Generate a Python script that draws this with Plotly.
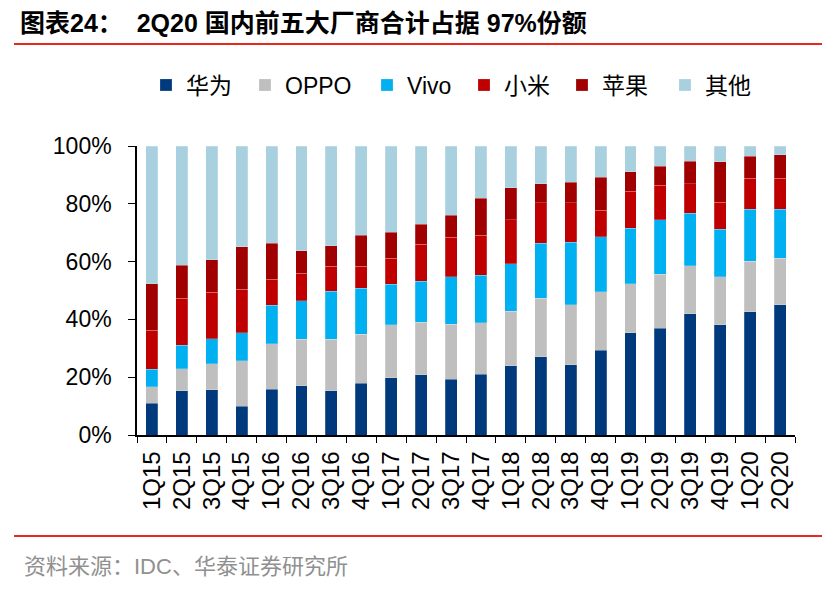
import plotly.graph_objects as go

quarters = ["1Q15","2Q15","3Q15","4Q15","1Q16","2Q16","3Q16","4Q16",
            "1Q17","2Q17","3Q17","4Q17","1Q18","2Q18","3Q18","4Q18",
            "1Q19","2Q19","3Q19","4Q19","1Q20","2Q20"]

# market shares (%)
huawei = [11.0,15.3,15.6,10.0,15.9,17.0,15.3,17.9,19.8,20.8,19.3,21.1,23.9,27.0,24.3,29.4,35.4,36.9,42.0,38.2,42.6,45.1]
oppo   = [5.7,7.7,9.1,15.7,15.6,16.2,17.8,17.0,18.3,18.2,19.0,17.7,19.0,20.3,20.7,20.1,17.0,18.8,16.5,16.5,17.6,16.1]
vivo   = [6.1,8.0,8.6,9.7,13.4,13.3,16.7,15.8,14.0,14.2,16.5,16.4,16.4,19.0,21.7,19.1,19.1,18.7,18.3,16.5,18.0,17.0]
xiaomi = [13.4,16.3,16.1,15.0,9.0,9.4,8.6,7.7,9.1,12.8,13.6,13.9,15.1,14.0,13.6,9.1,12.9,12.1,10.1,9.4,10.6,10.6]
apple  = [16.2,11.5,11.3,14.7,12.5,7.8,7.0,10.8,9.0,7.0,7.7,12.9,11.1,6.6,7.2,11.5,6.7,6.5,7.9,14.0,7.6,8.1]
others = [47.6,41.2,39.3,34.9,33.6,36.3,34.6,30.8,29.8,27.0,23.9,18.0,14.5,13.1,12.5,10.8,8.9,7.0,5.2,5.4,3.6,3.1]

names  = ["华为", "OPPO", "Vivo", "小米", "苹果", "其他"]
colors = ["#003A7D", "#BFBFBF", "#00B0F0", "#C00000", "#A00000", "#A9D0DF"]
values = [huawei, oppo, vivo, xiaomi, apple, others]
legend_left_px = [146, 245, 367, 464, 562, 665]

FONT = "Liberation Sans, Arial, Noto Sans CJK SC, sans-serif"

L, R, T, B = 137, 40, 146, 161
W, H = 835, 596
pw, ph = W - L - R, H - T - B

def px(x):
    return (x - L) / pw

def py(y):
    return (H - B - y) / ph

fig = go.Figure()
legends = {}
for i, (name, vals, color) in enumerate(zip(names, values, colors)):
    key = "legend" if i == 0 else f"legend{i + 1}"
    fig.add_trace(go.Bar(
        x=quarters, y=[v / 100 for v in vals], name=name, legend=key,
        showlegend=True,
        marker=dict(color=color, line=dict(width=0.6, color="rgba(255,255,255,0.35)")),
    ))
    legends[key] = dict(
        orientation="h", x=px(legend_left_px[i]), xanchor="left",
        y=py(85), yanchor="middle", font=dict(size=23, family=FONT),
        bgcolor="rgba(0,0,0,0)", itemwidth=30, visible=True,
    )

fig.update_layout(
    width=W, height=H,
    margin=dict(l=L, r=R, t=T, b=B, pad=0),
    barmode="stack",
    bargap=0.6,
    showlegend=True,
    plot_bgcolor="white",
    paper_bgcolor="white",
    font=dict(family=FONT, size=22, color="black"),
    xaxis=dict(
        type="category", range=[-0.5, len(quarters) - 0.5],
        tickmode="linear", dtick=1, tick0=0,
        showline=True, linecolor="black", linewidth=1.5,
        ticks="outside", tickson="boundaries", ticklen=6, tickcolor="black",
        tickangle=-90, tickfont=dict(size=24, family=FONT), showgrid=False,
        ticklabelstandoff=5,
    ),
    yaxis=dict(
        range=[0, 1], tickvals=[0, 0.2, 0.4, 0.6, 0.8, 1.0],
        tickformat=".0%", showline=True, linecolor="black", linewidth=1.5,
        ticks="outside", ticklen=7, tickcolor="black", showgrid=False,
        tickfont=dict(size=23, family=FONT), zeroline=False,
        ticklabelstandoff=12,
    ),
    shapes=[
        dict(type="line", xref="paper", yref="paper", x0=px(14), x1=px(822), y0=py(44), y1=py(44),
             line=dict(color="#E8281E", width=2)),
        dict(type="line", xref="paper", yref="paper", x0=px(14), x1=px(822), y0=py(536), y1=py(536),
             line=dict(color="#E8281E", width=2)),
    ],
    annotations=[
        dict(text="<b>图表24：  2Q20 国内前五大厂商合计占据 97%份额</b>", xref="paper", yref="paper",
             x=px(18), y=py(23), xanchor="left", yanchor="middle", showarrow=False,
             font=dict(size=25, family=FONT, color="black")),
        dict(text="资料来源：IDC、华泰证券研究所", xref="paper", yref="paper",
             x=px(22), y=py(566), xanchor="left", yanchor="middle", showarrow=False,
             font=dict(size=22, family=FONT, color="#909090")),
    ],
    **legends,
)

fig.write_html("out.html")
